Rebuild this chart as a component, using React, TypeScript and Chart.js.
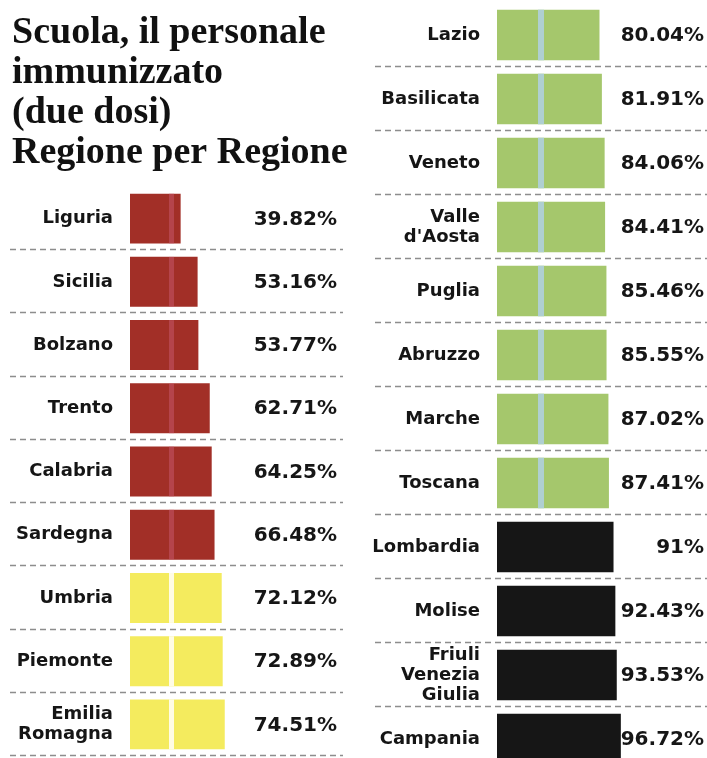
import React, { useEffect, useRef } from "react";
import { Chart, registerables } from "chart.js";

Chart.register(...registerables);

const TITLE_LINES = ["Scuola, il personale", "immunizzato", "(due dosi)", "Regione per Regione"];

const LEFT_REGIONS: (string | string[])[] = [
  "Liguria", "Sicilia", "Bolzano", "Trento", "Calabria", "Sardegna", "Umbria", "Piemonte", ["Emilia", "Romagna"],
];
const LEFT_VALUES = [39.82, 53.16, 53.77, 62.71, 64.25, 66.48, 72.12, 72.89, 74.51];

const RIGHT_REGIONS: (string | string[])[] = [
  "Lazio", "Basilicata", "Veneto", ["Valle", "d'Aosta"], "Puglia", "Abruzzo", "Marche", "Toscana",
  "Lombardia", "Molise", ["Friuli", "Venezia", "Giulia"], "Campania",
];
const RIGHT_VALUES = [80.04, 81.91, 84.06, 84.41, 85.46, 85.55, 87.02, 87.41, 91, 92.43, 93.53, 96.72];

const BAND_LIMITS = [70, 80, 90];
const BAND_COLORS = ["#a22f27", "#f4eb5e", "#a5c76c", "#161616"];
const BAND_STRIPES: (string | null)[] = ["rgba(205,95,120,0.45)", "rgba(255,253,235,0.95)", "rgba(175,208,215,0.95)", null];

const LABEL_FONT = "'DejaVu Sans', 'Liberation Sans', sans-serif";
const TITLE_FONT = "'Liberation Serif', 'DejaVu Serif', serif";

function bandIndex(v: number) {
  let i = 0;
  while (i < BAND_LIMITS.length && v >= BAND_LIMITS[i]) i++;
  return i;
}

function formatPct(v: number) {
  return (Number.isInteger(v) ? String(v) : v.toFixed(2)) + "%";
}

type PanelOpts = {
  width: number;
  height: number;
  left: number;
  top: number;
  axisWidth: number;
  xMax: number;
  padding: { left: number; right: number; top: number; bottom: number };
  title: boolean;
  lineStart: number;
  lineEnd: number;
  valueRight: number;
  stripeOffset: number;
  stripeWidth: number;
};

function makeDecor(values: number[], p: PanelOpts) {
  return {
    id: "decor",
    afterDatasetsDraw(chart: any) {
      const ctx = chart.ctx as CanvasRenderingContext2D;
      const meta = chart.getDatasetMeta(0);
      const yScale = chart.scales.y;
      const step = yScale.getPixelForValue(1) - yScale.getPixelForValue(0);
      ctx.save();
      meta.data.forEach((bar: any, i: number) => {
        const stripe = BAND_STRIPES[bandIndex(values[i])];
        if (!stripe) return;
        const { y, base, height } = bar.getProps(["y", "base", "height"], true);
        ctx.fillStyle = stripe;
        ctx.fillRect(base + p.stripeOffset, y - height / 2, p.stripeWidth, height);
      });
      ctx.strokeStyle = "#8d8d8d";
      ctx.lineWidth = 1.4;
      ctx.setLineDash([6, 4]);
      values.forEach((_, i) => {
        const yy = Math.round(yScale.getPixelForValue(i) + step / 2) - 0.5;
        ctx.beginPath();
        ctx.moveTo(p.lineStart, yy);
        ctx.lineTo(p.lineEnd, yy);
        ctx.stroke();
      });
      ctx.setLineDash([]);
      ctx.fillStyle = "#161616";
      ctx.font = `bold 20px ${LABEL_FONT}`;
      ctx.textAlign = "right";
      ctx.textBaseline = "middle";
      meta.data.forEach((bar: any, i: number) => {
        ctx.fillText(formatPct(values[i]), p.valueRight, bar.y + 1);
      });
      ctx.restore();
    },
  };
}

function BarPanel({ labels, values, p }: { labels: (string | string[])[]; values: number[]; p: PanelOpts }) {
  const ref = useRef<HTMLCanvasElement | null>(null);
  useEffect(() => {
    if (!ref.current) return;
    const chart = new Chart(ref.current, {
      type: "bar",
      data: {
        labels,
        datasets: [
          {
            data: values,
            backgroundColor: values.map((v) => BAND_COLORS[bandIndex(v)]),
            borderWidth: 0,
            barPercentage: 0.79,
            categoryPercentage: 1,
          },
        ],
      },
      options: {
        indexAxis: "y",
        responsive: false,
        maintainAspectRatio: false,
        animation: false,
        layout: { padding: p.padding },
        plugins: {
          legend: { display: false },
          tooltip: { enabled: false },
          title: p.title
            ? {
                display: true,
                text: TITLE_LINES,
                align: "start",
                color: "#111111",
                font: { family: TITLE_FONT, size: 38, weight: "bold", lineHeight: 40 / 38 },
                padding: { top: 13, bottom: 14 },
              }
            : { display: false },
        },
        scales: {
          x: { display: false, min: 0, max: p.xMax },
          y: {
            grid: { display: false, drawTicks: false },
            border: { display: false },
            ticks: {
              autoSkip: false,
              color: "#151515",
              padding: 17,
              font: { family: LABEL_FONT, size: 18, weight: "bold", lineHeight: 1.12 },
            },
            afterFit: (s: any) => {
              s.width = p.axisWidth;
              s.paddingTop = 0;
              s.paddingBottom = 0;
            },
          },
        },
      } as any,
      plugins: [makeDecor(values, p)],
    });
    return () => chart.destroy();
  }, []);
  return (
    <canvas
      ref={ref}
      width={p.width}
      height={p.height}
      style={{ position: "absolute", left: p.left, top: p.top, width: p.width, height: p.height, display: "block" }}
    />
  );
}

const LEFT_PANEL: PanelOpts = {
  width: 350,
  height: 758,
  left: 0,
  top: 0,
  axisWidth: 118,
  xMax: 173,
  padding: { left: 12, right: 0, top: 0, bottom: 2 },
  title: true,
  lineStart: 10,
  lineEnd: 343,
  valueRight: 337,
  stripeOffset: 39,
  stripeWidth: 5,
};

const RIGHT_PANEL: PanelOpts = {
  width: 347,
  height: 772,
  left: 360,
  top: 0,
  axisWidth: 137,
  xMax: 164,
  padding: { left: 0, right: 0, top: 3, bottom: 1 },
  title: false,
  lineStart: 15,
  lineEnd: 347,
  valueRight: 344,
  stripeOffset: 41,
  stripeWidth: 6,
};

export default function App() {
  return (
    <div
      style={{
        position: "absolute",
        left: 0,
        top: 0,
        width: 707,
        height: 758,
        overflow: "hidden",
        background: "#ffffff",
      }}
    >
      <BarPanel labels={LEFT_REGIONS} values={LEFT_VALUES} p={LEFT_PANEL} />
      <BarPanel labels={RIGHT_REGIONS} values={RIGHT_VALUES} p={RIGHT_PANEL} />
    </div>
  );
}
